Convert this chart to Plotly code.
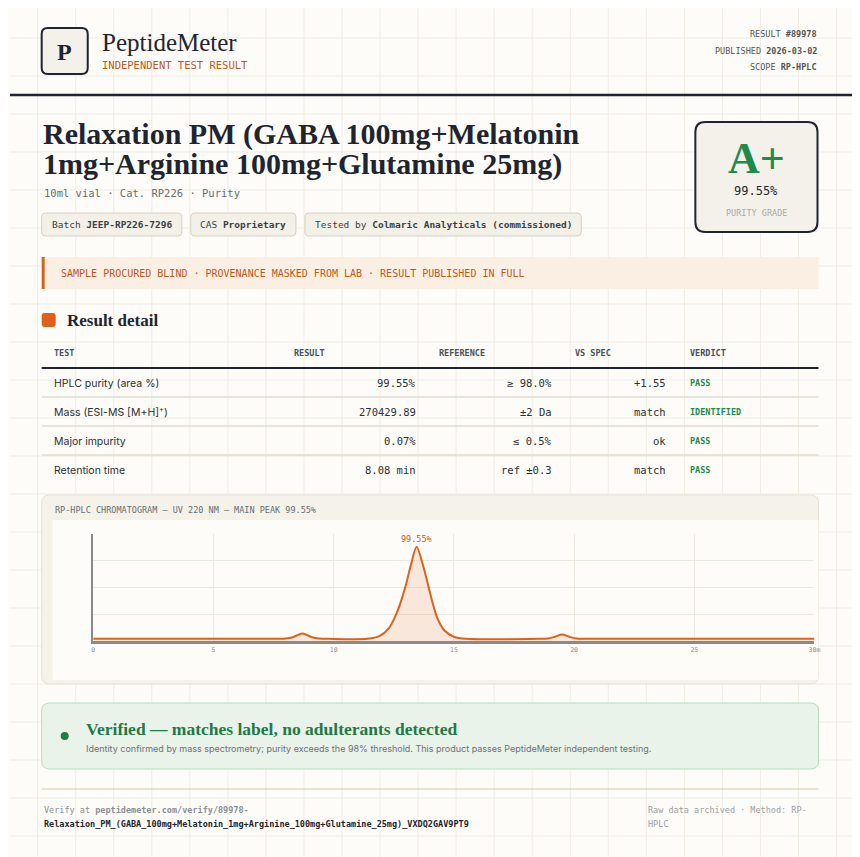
import plotly.graph_objects as go

# chromatogram (minutes, relative absorbance)
rt_min = [0, 7.6, 8.0, 8.3, 8.5, 8.7, 8.9, 9.1, 9.4, 9.8, 11.4, 11.9, 12.3, 12.6, 12.8, 13.0, 13.2, 13.45,
          13.7, 13.9, 14.1, 14.3, 14.6, 15.0, 15.5, 18.5, 18.9, 19.2, 19.5, 19.8, 20.1, 20.5, 30]
absorb = [2, 2, 2.3, 3.5, 5.5, 7, 5.5, 3.5, 2.3, 2, 2, 4.5, 12, 25, 37, 52, 70, 88,
          72, 55, 37, 22, 10, 4, 2, 2, 2.3, 4, 6, 4, 2.3, 2, 2]
x_ticks = [0, 5, 10, 15, 20, 25, 30]
x_labels = ["0", "5", "10", "15", "20", "25", "30m"]

headers = ["TEST", "RESULT", "REFERENCE", "VS SPEC", "VERDICT"]
tests = ["HPLC purity (area %)", "Mass (ESI-MS [M+H]<sup>+</sup>)", "Major impurity", "Retention time"]
results = ["99.55%", "270429.89", "0.07%", "8.08 min"]
refs = ["≥ 98.0%", "±2 Da", "≤ 0.5%", "ref ±0.3"]
vs_spec = ["+1.55", "match", "ok", "match"]
verdicts = ["PASS", "IDENTIFIED", "PASS", "PASS"]

INK = "#1e2530"
ORANGE = "#d9601a"
GREEN = "#1f7a45"
MONO = "DejaVu Sans Mono"
SERIF = "Liberation Serif"
SANS = "Inter"
W, H = 860, 857
# the page is shown shifted by the body margin and slightly squeezed horizontally
X0, XSPAN = 10.35, 851.1
Y0 = 8


def rrect(x0, y0, x1, y1, r):
    return (f"M{x0+r},{y0} L{x1-r},{y0} Q{x1},{y0} {x1},{y0+r} L{x1},{y1-r} Q{x1},{y1} {x1-r},{y1} "
            f"L{x0+r},{y1} Q{x0},{y1} {x0},{y1-r} L{x0},{y0+r} Q{x0},{y0} {x0+r},{y0} Z")


shapes = []
ann = []


def box(x0, y0, x1, y1, r, fill, line=None, lw=1):
    shapes.append(dict(type="path", path=rrect(x0, y0, x1, y1, r), xref="x", yref="y", layer="below",
                       fillcolor=fill, line=dict(color=line or fill, width=lw if line else 0)))


def hline(y, x0, x1, color, w=1):
    shapes.append(dict(type="line", x0=x0, x1=x1, y0=y, y1=y, xref="x", yref="y", layer="below",
                       line=dict(color=color, width=w)))


def txt(x, y, s, size, color=INK, font=MONO, anchor="left"):
    ann.append(dict(x=x, y=y, text=s, xref="x", yref="y", showarrow=False, xanchor=anchor, yanchor="middle",
                    font=dict(family=font, size=size, color=color)))


# background grid
for gx in range(0, W + 38, 38):
    shapes.append(dict(type="line", x0=gx, x1=gx, y0=0, y1=H + 20, xref="x", yref="y", layer="below",
                       line=dict(color="#efece3", width=1)))
for gy in range(0, H + 38, 38):
    hline(gy, 0, W + 20, "#efece3")

# header
box(42, 28, 88, 74, 6, "#f4f1ea", INK, 2)
txt(65, 52, "<b>P</b>", 24, INK, SERIF, "center")
txt(100, 42, "PeptideMeter", 25, INK, SERIF)
txt(100, 65, "INDEPENDENT TEST RESULT", 10.5, "#c2571a")
txt(818, 34, "RESULT <b>#89978</b>", 8.5, "#555", MONO, "right")
txt(818, 51, "PUBLISHED <b>2026-03-02</b>", 8.5, "#555", MONO, "right")
txt(818, 67, "SCOPE <b>RP-HPLC</b>", 8.5, "#555", MONO, "right")
hline(95, 0, W + 20, INK, 2.5)

# title
txt(41, 134, "<b>Relaxation PM (GABA 100mg+Melatonin</b>", 30, INK, SERIF)
txt(41, 164, "<b>1mg+Arginine 100mg+Glutamine 25mg)</b>", 30, INK, SERIF)
txt(42, 193, "10ml vial · Cat. RP226 · Purity", 10.5, "#666d75")
for x0, x1, s in [(42, 182, "Batch <b>JEEP-RP226-7296</b>"), (191, 296, "CAS <b>Proprietary</b>"),
                  (305, 581, "Tested by <b>Colmaric Analyticals (commissioned)</b>")]:
    box(x0, 213, x1, 236, 4, "#f3f0e8", "#d6d0c2", 1)
    txt((x0 + x1) / 2, 224.5, s, 9.5, "#3a3f46", MONO, "center")

# grade box
box(695, 122, 817, 232, 10, "#f4f1ea", INK, 2)
txt(756, 158, "<b>A+</b>", 44, "#1f8a4c", SERIF, "center")
txt(756, 191, "99.55%", 12, INK, MONO, "center")
txt(756, 213, "PURITY GRADE", 8.5, "#a9a9a9", MONO, "center")

# banner
shapes.append(dict(type="rect", x0=42, x1=818, y0=257, y1=289, xref="x", yref="y", layer="below",
                   fillcolor="#fbefe3", line=dict(width=0)))
shapes.append(dict(type="rect", x0=42, x1=45, y0=257, y1=289, xref="x", yref="y", layer="below",
                   fillcolor=ORANGE, line=dict(width=0)))
txt(59, 273, "SAMPLE PROCURED BLIND · PROVENANCE MASKED FROM LAB · RESULT PUBLISHED IN FULL", 10, "#c2571a")

# result detail table
box(42, 313, 56, 327, 3, "#e0601a")
txt(65, 320, "<b>Result detail</b>", 17, INK, SERIF)
head_x = [52, 292, 437, 573, 688]
for hx, h in zip(head_x, headers):
    txt(hx, 353, f"<b>{h}</b>", 8.5, "#4a5058")
hline(368, 42, 818, INK, 2)
for i in range(4):
    yc = 383 + 29 * i
    txt(52, yc, tests[i], 10.5, "#2a2f36", SANS)
    txt(418, yc, results[i], 10.5, "#2a2f36", MONO, "right")
    txt(554, yc, refs[i], 10.5, "#2a2f36", MONO, "right")
    txt(668, yc, vs_spec[i], 10.5, "#2a2f36", MONO, "right")
    txt(688, yc, f"<b>{verdicts[i]}</b>", 8.5, "#1f8a4c")
    if i < 3:
        hline(yc + 14, 42, 818, "#e2ddd0", 1.5)

# chromatogram panel
box(42, 495, 818, 684, 8, "#f5f2ea", "#e6e1d5", 1)
shapes.append(dict(type="rect", x0=53, x1=818, y0=520, y1=680, xref="x", yref="y", layer="below",
                   fillcolor="#fdfcf8", line=dict(width=0)))
txt(53, 510, "RP-HPLC CHROMATOGRAM — UV 220 NM — MAIN PEAK 99.55%", 8.5, "#666d75")

# verified box
box(42, 703, 818, 769, 8, "#e9f3ea", "#b9dcc0", 1)
shapes.append(dict(type="circle", x0=61, x1=69, y0=732, y1=740, xref="x", yref="y", layer="below",
                   fillcolor="#1f7a45", line=dict(width=0)))
txt(84, 729, "<b>Verified — matches label, no adulterants detected</b>", 17.5, GREEN, SERIF)
txt(84, 748, "Identity confirmed by mass spectrometry; purity exceeds the 98% threshold. "
             "This product passes PeptideMeter independent testing.", 9, "#6b7178", SANS)

# footer
hline(789, 42, 818, "#d6c9a8", 1)
txt(42, 810, "Verify at <b>peptidemeter.com/verify/89978-</b>", 8.5, "#8a8f95")
txt(42, 824, "<b>Relaxation_PM_(GABA_100mg+Melatonin_1mg+Arginine_100mg+Glutamine_25mg)_VXDQ2GAV9PT9</b>",
    8.5, INK)
txt(646, 810, "Raw data archived · Method: RP-", 8.5, "#9a9fa5")
txt(646, 824, "HPLC", 8.5, "#9a9fa5")

fig = go.Figure()
fig.add_trace(go.Scatter(x=[X0 + 1], y=[Y0 + 1], xaxis="x", yaxis="y", mode="markers",
                         marker=dict(opacity=0), hoverinfo="skip", showlegend=False))
fig.add_trace(go.Scatter(x=rt_min, y=absorb, xaxis="x2", yaxis="y2", mode="lines",
                         line=dict(color="#e0601a", width=2, shape="spline", smoothing=0.8),
                         fill="tozeroy", fillcolor="rgba(224,96,26,0.13)", showlegend=False))

peak_i = absorb.index(max(absorb))
ann.append(dict(x=rt_min[peak_i], y=absorb[peak_i], xref="x2", yref="y2", text="99.55%", showarrow=False,
                yanchor="bottom", yshift=1, font=dict(family=MONO, size=8.5, color="#c2571a")))

fig.update_layout(
    width=W, height=H, margin=dict(l=0, r=0, t=0, b=0),
    paper_bgcolor="#fdfcf8", plot_bgcolor="rgba(0,0,0,0)", showlegend=False,
    xaxis=dict(range=[X0, X0 + XSPAN], visible=False, domain=[0, 1], fixedrange=True),
    yaxis=dict(range=[H + Y0, Y0], visible=False, domain=[0, 1], fixedrange=True),
    xaxis2=dict(range=[0, 30], domain=[(93.5 - X0) / XSPAN, (814 - X0) / XSPAN], anchor="y2",
                tickvals=x_ticks, ticktext=x_labels,
                showgrid=True, gridcolor="#ece8df", zeroline=False, showline=True, linecolor="#8a8a8a",
                linewidth=3, ticks="", tickfont=dict(family=MONO, size=6.5, color="#8a8f95")),
    yaxis2=dict(range=[0, 100], domain=[1 - (641 - Y0) / H, 1 - (534 - Y0) / H], anchor="x2", dtick=25,
                showgrid=True, gridcolor="#ece8df", zeroline=False, showline=True, linecolor="#8a8a8a",
                linewidth=2, showticklabels=False, ticks=""),
    shapes=shapes, annotations=ann,
)
fig.write_html("out.html")
